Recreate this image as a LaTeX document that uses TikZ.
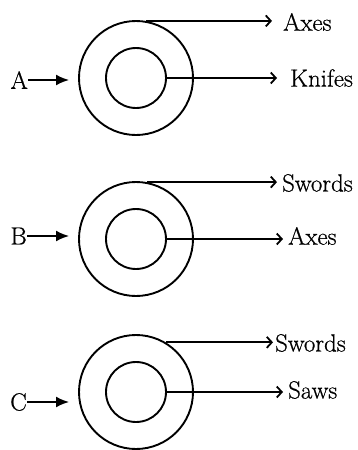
\documentclass[tikz,border=0pt]{standalone}
\usepackage{fontspec}
\newfontfamily\lblfont[FakeBold=0.6]{Latin Modern Roman}
\usetikzlibrary{arrows.meta}
\begin{document}
\begin{tikzpicture}[x=1pt,y=-1pt,
  ring/.style={circle,draw,line width=1.9pt,inner sep=0pt,minimum size=#1},
  lbl/.style={inner sep=0pt,font=\lblfont\Huge},
  outarrow/.style={line width=1.8pt,-{Straight Barb[length=5pt,width=11pt,line width=1.8pt]}},
  inarrow/.style={line width=1.8pt,-{Latex[length=13pt,width=11pt]}}]
\useasboundingbox (0,0) rectangle (358,450);
% ---------- A ----------
\node[ring=114pt] (oA) at (136,78) {};
\node[ring=60pt] (iA) at (136,78) {};
\node[lbl,anchor=west] (lA1) at (283,22) {Axes};
\node[lbl,anchor=west] (lA2) at (290,78) {Knifes};
\node[lbl,anchor=east] (A) at (28,80) {A};
\coordinate (tA) at (69,80);
\draw[outarrow,shorten >=11pt] (oA.80) -- (oA.80 -| lA1.west);
\draw[outarrow,shorten >=13pt] (iA.east) -- (iA.east -| lA2.west);
\draw[inarrow] (A.east) -- (tA);
% ---------- B ----------
\node[ring=114pt] (oB) at (136,239) {};
\node[ring=60pt] (iB) at (136,239) {};
\node[lbl,anchor=west] (lB1) at (282,183) {Swords};
\node[lbl,anchor=west] (lB2) at (288,236) {Axes};
\node[lbl,anchor=east] (B) at (27,236) {B};
\coordinate (tB) at (69,236);
\draw[outarrow,shorten >=5pt] (oB.79) -- (oB.79 -| lB1.west);
\draw[outarrow,shorten >=5pt] (iB.east) -- (iB.east -| lB2.west);
\draw[inarrow] (B.east) -- (tB);
% ---------- C ----------
\node[ring=114pt] (oC) at (136,392) {};
\node[ring=60pt] (iC) at (136,392) {};
\node[lbl,anchor=west] (lC1) at (275,343) {Swords};
\node[lbl,anchor=west] (lC2) at (288,390) {Saws};
\node[lbl,anchor=east] (C) at (27,402) {C};
\coordinate (tC) at (69,402);
\draw[outarrow,shorten >=2pt] (oC.59) -- (oC.59 -| lC1.west);
\draw[outarrow,shorten >=5pt] (iC.east) -- (iC.east -| lC2.west);
\draw[inarrow] (C.east) -- (tC);
\end{tikzpicture}
\end{document}
